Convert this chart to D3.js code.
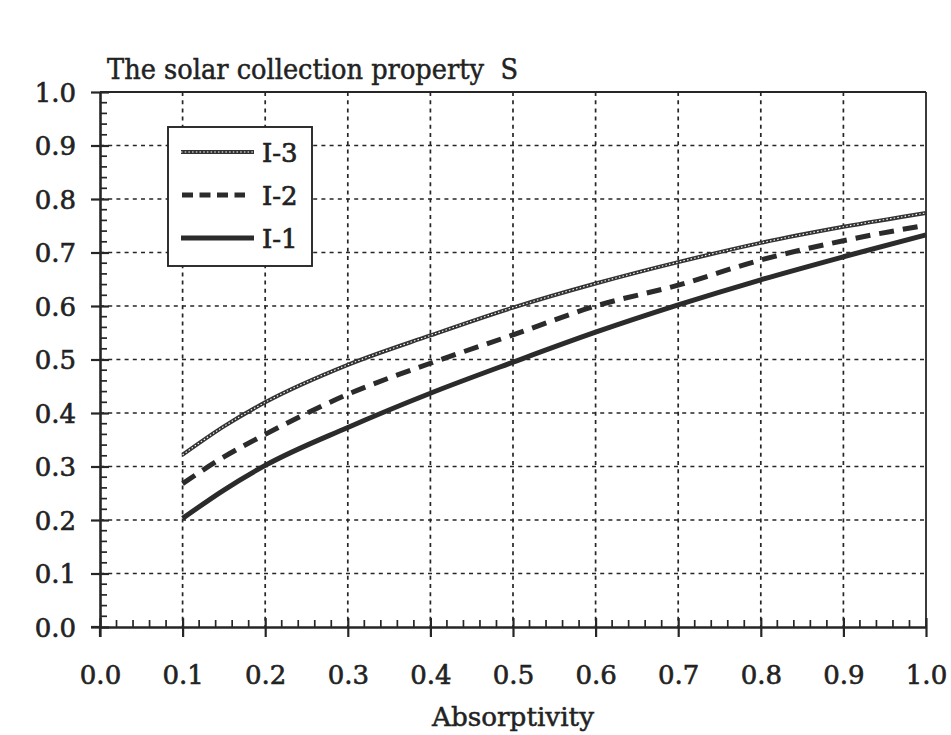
<!DOCTYPE html>
<html>
<head>
<meta charset="utf-8">
<script src="https://cdn.jsdelivr.net/npm/d3@7"></script>
<style>
  html, body { margin: 0; padding: 0; background: #fff; }
  svg { display: block; }
  text { font-family: "DejaVu Serif", "Liberation Serif", serif; fill: #222; }
</style>
</head>
<body>
<svg id="chart" width="951" height="735"></svg>
<script>
// Absorptivity values where S was evaluated
const absorptivity = [0.1, 0.15, 0.2, 0.3, 0.4, 0.5, 0.6, 0.7, 0.8, 0.9, 1.0];
// Solar collection property S for the three cases
const seriesI3 = [0.322, 0.375, 0.420, 0.490, 0.545, 0.597, 0.642, 0.682, 0.718, 0.748, 0.774];
const seriesI2 = [0.268, 0.318, 0.360, 0.435, 0.493, 0.546, 0.600, 0.639, 0.686, 0.722, 0.751];
const seriesI1 = [0.203, 0.256, 0.302, 0.373, 0.437, 0.495, 0.551, 0.602, 0.649, 0.692, 0.733];
const seriesNames = ["I-3", "I-2", "I-1"];
const tickValues = [0.0, 0.1, 0.2, 0.3, 0.4, 0.5, 0.6, 0.7, 0.8, 0.9, 1.0];
const titleText = "The solar collection property  S";
const xTitle = "Absorptivity";

const svg = d3.select("#chart");
const ink = "#262626";

const x = d3.scaleLinear().domain([0, 1]).range([100, 926]);
const y = d3.scaleLinear().domain([0, 1]).range([627, 92]);

// dotted grid
const grid = svg.append("g").attr("stroke", ink).attr("stroke-width", 1.7)
  .attr("stroke-dasharray", "4,4.2");
tickValues.filter(v => v > 0 && v < 1).forEach(v => {
  grid.append("line").attr("x1", x(v)).attr("x2", x(v)).attr("y1", y(1)).attr("y2", y(0));
  grid.append("line").attr("x1", x(0)).attr("x2", x(1)).attr("y1", y(v)).attr("y2", y(v));
});

// frame: top and right borders
svg.append("line").attr("x1", x(0)).attr("x2", x(1)).attr("y1", y(1)).attr("y2", y(1))
  .attr("stroke", ink).attr("stroke-width", 2.2);
svg.append("line").attr("x1", x(1)).attr("x2", x(1)).attr("y1", y(1)).attr("y2", y(0))
  .attr("stroke", ink).attr("stroke-width", 1.8);

// minor ticks pointing inward
const minor = d3.range(0, 1.0001, 0.02).filter(v => Math.abs(v * 10 - Math.round(v * 10)) > 1e-6);
const minorG = svg.append("g").attr("stroke", ink).attr("stroke-width", 1.7);
minor.forEach(v => {
  minorG.append("line").attr("x1", x(0)).attr("x2", x(0) + 7).attr("y1", y(v)).attr("y2", y(v));
  minorG.append("line").attr("x1", x(v)).attr("x2", x(v)).attr("y1", y(0)).attr("y2", y(0) - 7);
});

// main axes with crossing major ticks
const xAxis = d3.axisBottom(x).tickValues(tickValues).tickFormat(d3.format(".1f"))
  .tickSizeInner(10).tickSizeOuter(0).tickPadding(29);
const gx = svg.append("g").attr("transform", `translate(0,${y(0)})`).call(xAxis);
gx.select(".domain").attr("stroke", ink).attr("stroke-width", 2.6);
gx.selectAll(".tick line").attr("stroke", ink).attr("stroke-width", 2.2).attr("y1", -9);
gx.selectAll(".tick text").attr("font-size", 26).attr("fill", "#222")
  .attr("font-family", "DejaVu Serif").attr("stroke", "#222").attr("stroke-width", 0.6);

const yAxis = d3.axisLeft(y).tickValues(tickValues).tickFormat(d3.format(".1f"))
  .tickSizeInner(9).tickSizeOuter(0).tickPadding(15);
const gy = svg.append("g").attr("transform", `translate(${x(0)},0)`).call(yAxis);
gy.select(".domain").attr("stroke", ink).attr("stroke-width", 2.6);
gy.selectAll(".tick line").attr("stroke", ink).attr("stroke-width", 2.2).attr("x1", 9);
gy.selectAll(".tick text").attr("font-size", 26).attr("fill", "#222").attr("dy", "0.36em")
  .attr("font-family", "DejaVu Serif").attr("stroke", "#222").attr("stroke-width", 0.6);
// extend the axes past the origin like the crossing origin ticks
svg.append("line").attr("x1", x(0)).attr("x2", x(0)).attr("y1", y(0)).attr("y2", y(0) + 10)
  .attr("stroke", ink).attr("stroke-width", 2.2);
svg.append("line").attr("x1", x(0) - 9).attr("x2", x(0)).attr("y1", y(0)).attr("y2", y(0))
  .attr("stroke", ink).attr("stroke-width", 2.2);

// curves
const line = d3.line().x(d => x(d[0])).y(d => y(d[1])).curve(d3.curveMonotoneX);
const pts = s => absorptivity.map((a, i) => [a, s[i]]);

// I-1 solid
svg.append("path").attr("d", line(pts(seriesI1))).attr("fill", "none")
  .attr("stroke", "#2b2b2b").attr("stroke-width", 5);
// I-2 dashed
svg.append("path").attr("d", line(pts(seriesI2))).attr("fill", "none")
  .attr("stroke", "#2b2b2b").attr("stroke-width", 5).attr("stroke-dasharray", "15,9");
// I-3 chain-textured thin line
svg.append("path").attr("d", line(pts(seriesI3))).attr("fill", "none")
  .attr("stroke", "#333").attr("stroke-width", 4);
svg.append("path").attr("d", line(pts(seriesI3))).attr("fill", "none")
  .attr("stroke", "#fff").attr("stroke-width", 1.1).attr("stroke-dasharray", "1.5,2.2");

// legend
const lg = svg.append("g");
lg.append("rect").attr("x", 168).attr("y", 127).attr("width", 144).attr("height", 139)
  .attr("fill", "#fff").attr("stroke", ink).attr("stroke-width", 1.9);
const legendY = [152, 195, 238];
seriesNames.forEach((name, i) => {
  const ly = legendY[i];
  if (i === 0) {
    lg.append("line").attr("x1", 181).attr("x2", 254).attr("y1", ly).attr("y2", ly)
      .attr("stroke", "#333").attr("stroke-width", 4);
    lg.append("line").attr("x1", 181).attr("x2", 254).attr("y1", ly).attr("y2", ly)
      .attr("stroke", "#fff").attr("stroke-width", 1.1).attr("stroke-dasharray", "1.5,2.2");
  } else if (i === 1) {
    lg.append("line").attr("x1", 182).attr("x2", 245).attr("y1", ly).attr("y2", ly)
      .attr("stroke", "#2b2b2b").attr("stroke-width", 5).attr("stroke-dasharray", "11,6.5");
  } else {
    lg.append("line").attr("x1", 181).attr("x2", 254).attr("y1", ly).attr("y2", ly)
      .attr("stroke", "#2b2b2b").attr("stroke-width", 5);
  }
  lg.append("text").attr("x", 262).attr("y", ly + 10).attr("font-size", 26)
    .attr("stroke", "#222").attr("stroke-width", 0.7).text(name);
});

// titles
svg.append("text").attr("x", 107).attr("y", 79).attr("font-size", 28)
  .style("white-space", "pre")
  .attr("textLength", 411).attr("lengthAdjust", "spacingAndGlyphs")
  .attr("stroke", "#222").attr("stroke-width", 0.5).text(titleText);
svg.append("text").attr("x", 513).attr("y", 726).attr("font-size", 26)
  .attr("text-anchor", "middle").attr("textLength", 162).attr("lengthAdjust", "spacingAndGlyphs")
  .attr("stroke", "#222").attr("stroke-width", 0.5).text(xTitle);
</script>
</body>
</html>
